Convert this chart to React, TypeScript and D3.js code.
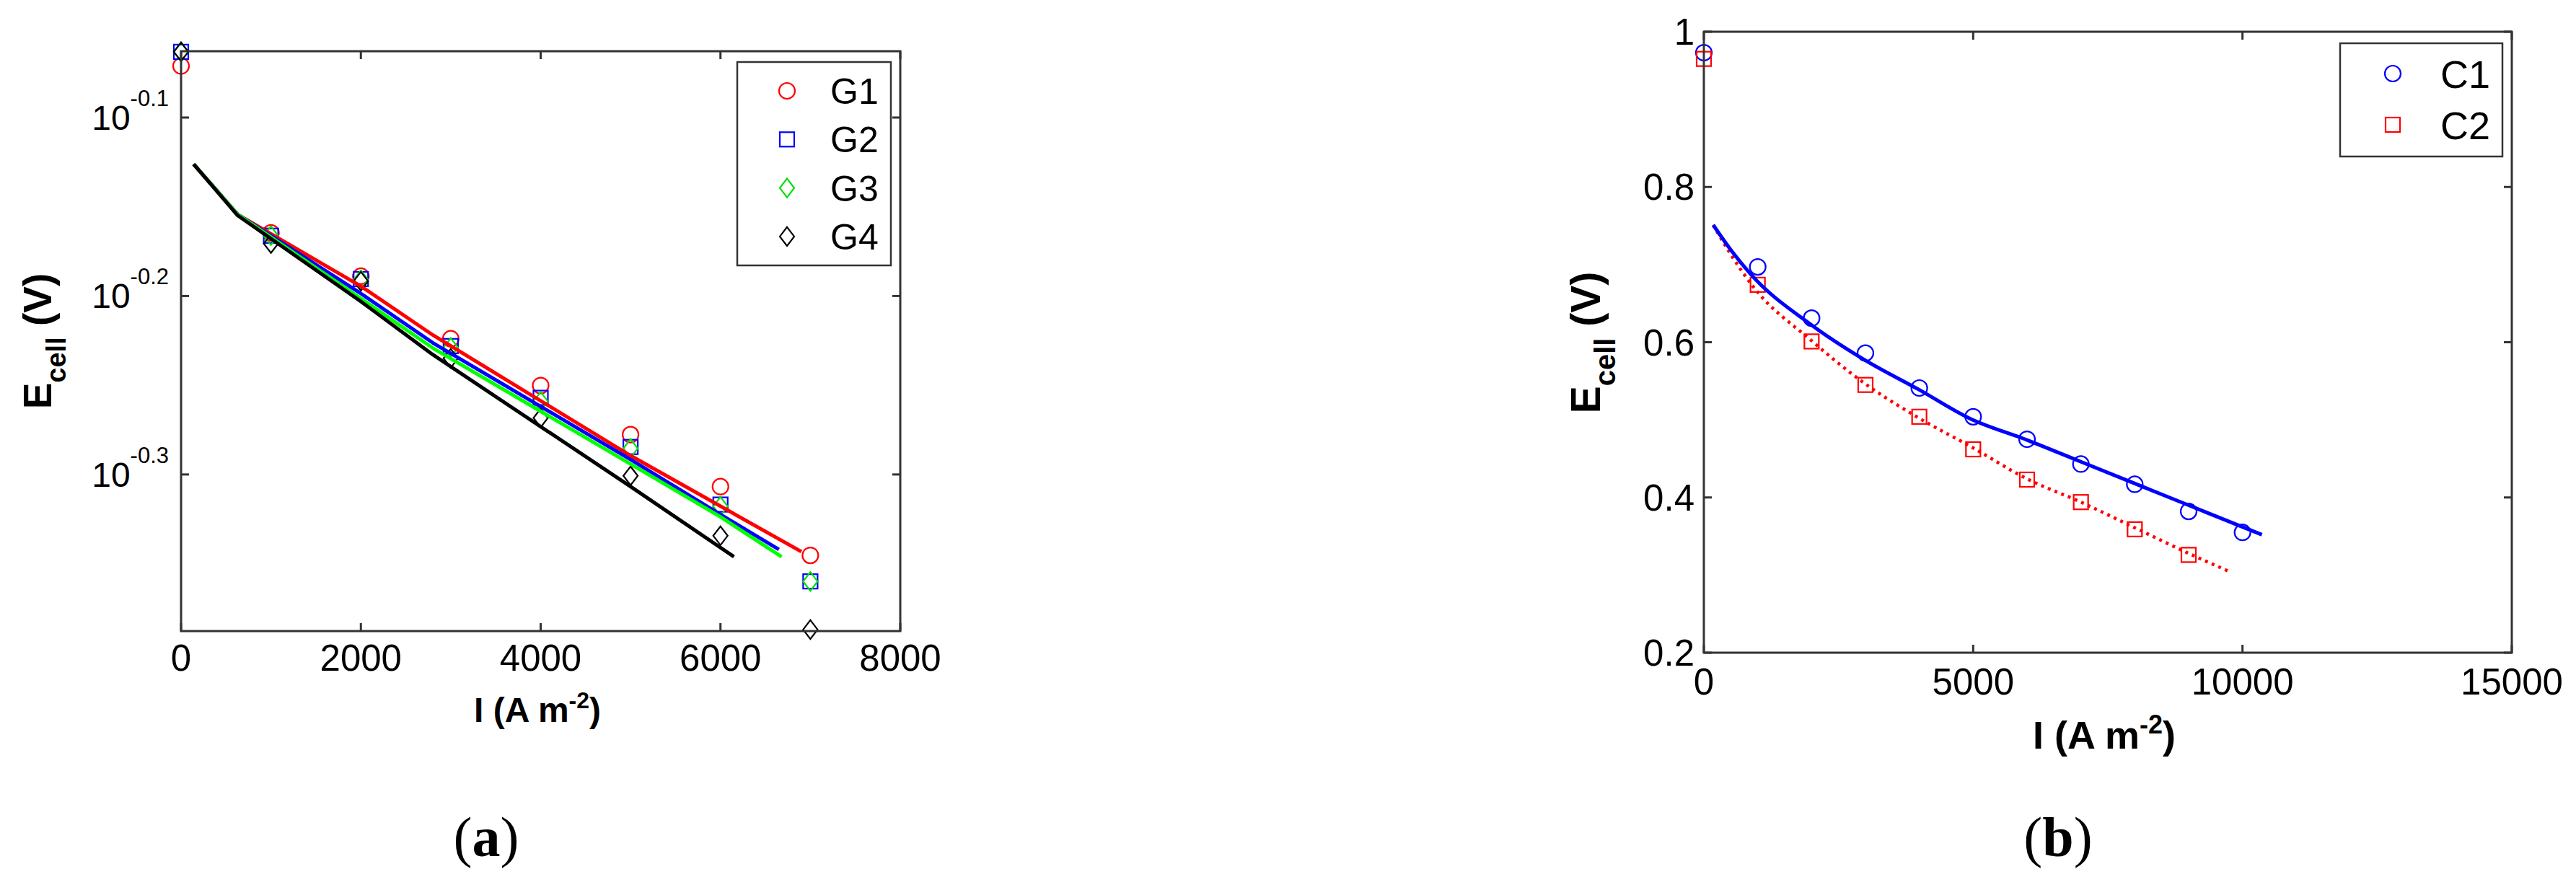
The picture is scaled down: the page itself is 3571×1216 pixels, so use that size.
import * as d3 from 'd3';

// ---- panel (a): polarisation curves G1..G4 (log y axis) ----
const currentA = [0, 1000, 2000, 3000, 4000, 5000, 6000, 7000];
const g1Points = [0.849, 0.6845, 0.6473, 0.5971, 0.5621, 0.5276, 0.4934, 0.4515];
const g2Points = [0.8646, 0.682, 0.6449, 0.5915, 0.5533, 0.5193, 0.4821, 0.4366];
const g3Points = [0.8646, 0.682, 0.6443, 0.5904, 0.5508, 0.5183, 0.481, 0.4366];
const g4Points = [0.8646, 0.6751, 0.6431, 0.5822, 0.5391, 0.5003, 0.4631, 0.4103];

const g1FitI = [140, 630, 2000, 2800, 5000, 6900];
const g1FitE = [0.748, 0.701, 0.639, 0.6, 0.5135, 0.4537];
const g2FitI = [140, 630, 2000, 2800, 5000, 6000, 6650];
const g2FitE = [0.748, 0.701, 0.633, 0.594, 0.511, 0.476, 0.455];
const g3FitI = [140, 630, 2000, 2800, 5000, 6000, 6680];
const g3FitE = [0.748, 0.701, 0.629, 0.59, 0.508, 0.4745, 0.4507];
const g4FitI = [140, 630, 2000, 2800, 5000, 6150];
const g4FitE = [0.748, 0.7, 0.6265, 0.585, 0.4934, 0.4507];

const xTicksA = [0, 2000, 4000, 6000, 8000];
const yTickExpA = ['-0.1', '-0.2', '-0.3'];
const seriesA = ['G1', 'G2', 'G3', 'G4'];

// ---- panel (b): C1, C2 ----
const currentC1 = [0, 1000, 2000, 3000, 4000, 5000, 6000, 7000, 8000, 9000, 10000];
const c1Points = [0.973, 0.697, 0.631, 0.586, 0.541, 0.504, 0.475, 0.443, 0.417, 0.382, 0.355];
const currentC2 = [0, 1000, 2000, 3000, 4000, 5000, 6000, 7000, 8000, 9000];
const c2Points = [0.965, 0.674, 0.601, 0.545, 0.504, 0.462, 0.423, 0.394, 0.359, 0.326];

const c1FitI = [174, 500, 866, 1982, 2964, 3991, 4929, 6000, 7000, 8000, 9000, 10000, 10360];
const c1FitE = [0.751, 0.719, 0.688, 0.623, 0.578, 0.539, 0.502, 0.474, 0.446, 0.418, 0.39, 0.362, 0.352];
const c2FitI = [174, 500, 911, 1982, 2964, 3950, 4970, 6000, 7000, 8000, 9000, 9775];
const c2FitE = [0.751, 0.713, 0.672, 0.603, 0.548, 0.504, 0.465, 0.424, 0.394, 0.361, 0.328, 0.304];

const xTicksB = [0, 5000, 10000, 15000];
const yTicksB = [0.2, 0.4, 0.6, 0.8, 1];
const seriesB = ['C1', 'C2'];

const FONT = '"Liberation Sans", Arial, Helvetica, sans-serif';
const AXIS = '#333';

type Shape = 'circle' | 'square' | 'diamond';

function Marker({ shape, cx, cy, color, size = 11 }: { shape: Shape; cx: number; cy: number; color: string; size?: number }) {
  if (shape === 'circle') {
    return <circle cx={cx} cy={cy} r={size} fill="none" stroke={color} strokeWidth={2.2} />;
  }
  if (shape === 'square') {
    return <rect x={cx - size + 1} y={cy - size + 1} width={2 * size - 2} height={2 * size - 2} fill="none" stroke={color} strokeWidth={2.2} />;
  }
  const hw = size - 1;
  const hh = size + 2;
  return (
    <path
      d={`M${cx},${cy - hh}L${cx + hw},${cy}L${cx},${cy + hh}L${cx - hw},${cy}Z`}
      fill="none"
      stroke={color}
      strokeWidth={2.2}
    />
  );
}

function PanelA() {
  const x = d3.scaleLinear().domain([0, 8000]).range([251, 1248]);
  const y = d3.scaleLog().domain([0.4095, 0.8653]).range([875, 71]);
  const line = d3.line<[number, number]>().x((d) => x(d[0])).y((d) => y(d[1]));

  const points = [g1Points, g2Points, g3Points, g4Points];
  const fits = [
    d3.zip(g1FitI, g1FitE),
    d3.zip(g2FitI, g2FitE),
    d3.zip(g3FitI, g3FitE),
    d3.zip(g4FitI, g4FitE),
  ] as [number, number][][];
  const colors = ['#ff0000', '#0000ff', '#00e000', '#000000'];
  const lineColors = ['#ff0000', '#0000ff', '#00ff00', '#000000'];
  const shapes: Shape[] = ['circle', 'square', 'diamond', 'diamond'];
  const [x0, x1] = x.range();
  const [y0, y1] = y.range();

  return (
    <g>
      {/* markers */}
      {points.map((vals, si) =>
        vals.map((v, i) => (
          <Marker key={`${si}-${i}`} shape={shapes[si]} cx={x(currentA[i])} cy={y(v)} color={colors[si]} />
        ))
      )}
      {/* model lines, drawn red first then blue, green, black */}
      {[0, 1, 2, 3].map((si) => (
        <path key={si} d={line(fits[si]) || ''} fill="none" stroke={lineColors[si]} strokeWidth={5} strokeLinejoin="round" />
      ))}

      {/* box */}
      <rect x={x0} y={y1} width={x1 - x0} height={y0 - y1} fill="none" stroke={AXIS} strokeWidth={3} />
      {xTicksA.map((t) => (
        <g key={t}>
          <line x1={x(t)} x2={x(t)} y1={y0} y2={y0 - 11} stroke={AXIS} strokeWidth={3} />
          <line x1={x(t)} x2={x(t)} y1={y1} y2={y1 + 11} stroke={AXIS} strokeWidth={3} />
          <text x={x(t)} y={930} textAnchor="middle" fontSize={51} fontFamily={FONT} fill="#000">
            {t}
          </text>
        </g>
      ))}
      {yTickExpA.map((e) => {
        const yy = y(Math.pow(10, +e));
        return (
          <g key={e}>
            <line x1={x0} x2={x0 + 11} y1={yy} y2={yy} stroke={AXIS} strokeWidth={3} />
            <line x1={x1} x2={x1 - 11} y1={yy} y2={yy} stroke={AXIS} strokeWidth={3} />
            <text x={234} y={yy + 17} textAnchor="end" fontSize={48} fontFamily={FONT} fill="#000">
              10
              <tspan dy={-33} fontSize={31}>
                {e}
              </tspan>
            </text>
          </g>
        );
      })}

      {/* axis labels */}
      <text x={745} y={1001} textAnchor="middle" fontSize={48} fontWeight="bold" fontFamily={FONT}>
        I (A m
        <tspan dy={-19} fontSize={32}>
          -2
        </tspan>
        <tspan dy={19}>)</tspan>
      </text>
      <text transform="translate(71,473) rotate(-90)" textAnchor="middle" fontSize={55} fontWeight="bold" fontFamily={FONT}>
        E
        <tspan dy={20} fontSize={38}>
          cell
        </tspan>
        <tspan dy={-20}> (V)</tspan>
      </text>

      {/* legend */}
      <rect x={1022} y={86} width={213} height={282} fill="#fff" stroke={AXIS} strokeWidth={2.5} />
      {seriesA.map((name, i) => {
        const cy = 126 + i * 67.3;
        return (
          <g key={name}>
            <Marker shape={shapes[i]} cx={1091} cy={cy} color={colors[i]} />
            <text x={1151} y={cy + 18} fontSize={50} fontFamily={FONT}>
              {name}
            </text>
          </g>
        );
      })}

      <text x={674} y={1187} textAnchor="middle" fontSize={78} fontFamily='"Liberation Serif", "Times New Roman", serif'>
        (<tspan fontWeight="bold">a</tspan>)
      </text>
    </g>
  );
}

function PanelB() {
  const x = d3.scaleLinear().domain([0, 15000]).range([2362, 3482]);
  const y = d3.scaleLinear().domain([0.2, 1]).range([905, 44]);
  const curve = d3
    .line<[number, number]>()
    .x((d) => x(d[0]))
    .y((d) => y(d[1]))
    .curve(d3.curveMonotoneX);
  const [x0, x1] = x.range();
  const [y0, y1] = y.range();
  const fitC1 = d3.zip(c1FitI, c1FitE) as [number, number][];
  const fitC2 = d3.zip(c2FitI, c2FitE) as [number, number][];
  const shapes: Shape[] = ['circle', 'square'];
  const colors = ['#0000ff', '#ff0000'];

  return (
    <g>
      {c1Points.map((v, i) => (
        <Marker key={`c1-${i}`} shape="circle" cx={x(currentC1[i])} cy={y(v)} color="#0000ff" />
      ))}
      {c2Points.map((v, i) => (
        <Marker key={`c2-${i}`} shape="square" cx={x(currentC2[i])} cy={y(v)} color="#ff0000" />
      ))}
      <path d={curve(fitC2) || ''} fill="none" stroke="#ff0000" strokeWidth={4.5} strokeDasharray="4 6" />
      <path d={curve(fitC1) || ''} fill="none" stroke="#0000ff" strokeWidth={5} />

      <rect x={x0} y={y1} width={x1 - x0} height={y0 - y1} fill="none" stroke={AXIS} strokeWidth={3} />
      {xTicksB.map((t) => (
        <g key={t}>
          <line x1={x(t)} x2={x(t)} y1={y0} y2={y0 - 11} stroke={AXIS} strokeWidth={3} />
          <line x1={x(t)} x2={x(t)} y1={y1} y2={y1 + 11} stroke={AXIS} strokeWidth={3} />
          <text x={x(t)} y={963} textAnchor="middle" fontSize={51} fontFamily={FONT}>
            {t}
          </text>
        </g>
      ))}
      {yTicksB.map((t) => (
        <g key={t}>
          <line x1={x0} x2={x0 + 11} y1={y(t)} y2={y(t)} stroke={AXIS} strokeWidth={3} />
          <line x1={x1} x2={x1 - 11} y1={y(t)} y2={y(t)} stroke={AXIS} strokeWidth={3} />
          <text x={2349} y={y(t) + 18} textAnchor="end" fontSize={51} fontFamily={FONT}>
            {d3.format('~g')(t)}
          </text>
        </g>
      ))}

      <text x={2917} y={1038} textAnchor="middle" fontSize={54} fontWeight="bold" fontFamily={FONT}>
        I (A m
        <tspan dy={-21} fontSize={36}>
          -2
        </tspan>
        <tspan dy={21}>)</tspan>
      </text>
      <text transform="translate(2218,475) rotate(-90)" textAnchor="middle" fontSize={57} fontWeight="bold" fontFamily={FONT}>
        E
        <tspan dy={21} fontSize={40}>
          cell
        </tspan>
        <tspan dy={-21}> (V)</tspan>
      </text>

      <rect x={3244} y={60} width={225} height={157} fill="#fff" stroke={AXIS} strokeWidth={2.5} />
      {seriesB.map((name, i) => {
        const cy = 102 + i * 71;
        return (
          <g key={name}>
            <Marker shape={shapes[i]} cx={3317} cy={cy} color={colors[i]} />
            <text x={3383} y={cy + 20} fontSize={54} fontFamily={FONT}>
              {name}
            </text>
          </g>
        );
      })}

      <text x={2853} y={1187} textAnchor="middle" fontSize={78} fontFamily='"Liberation Serif", "Times New Roman", serif'>
        (<tspan fontWeight="bold">b</tspan>)
      </text>
    </g>
  );
}

export default function App() {
  return (
    <svg
      width={3571}
      height={1216}
      style={{ position: 'absolute', left: 0, top: 0, background: '#fff' }}
    >
      <rect width={3571} height={1216} fill="#fff" />
      <PanelA />
      <PanelB />
    </svg>
  );
}
